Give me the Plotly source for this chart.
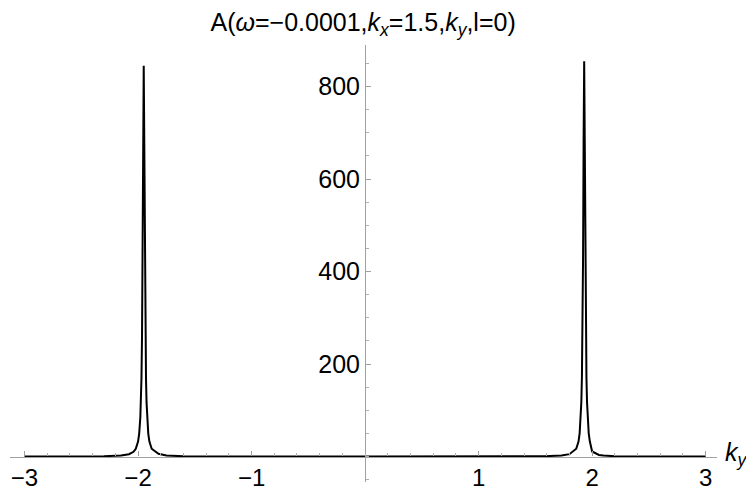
import plotly.graph_objects as go

# ky sample positions and spectral function values
ky = [-3.0, -2.6, -2.3, -2.15, -2.08, -2.04, -2.02, -2.0, -1.99, -1.98, -1.975, -1.97,
      -1.965, -1.96, -1.955, -1.95, -1.945, -1.94, -1.935, -1.93, -1.925, -1.92,
      -1.91, -1.9, -1.88, -1.82, -1.75, -1.6, -1.3, -0.8, 0.0,
      0.8, 1.3, 1.58, 1.73, 1.8, 1.86, 1.88, 1.89, 1.9, 1.905, 1.91, 1.915, 1.92,
      1.925, 1.93, 1.935, 1.94, 1.945, 1.95, 1.955, 1.96, 1.97, 1.98, 2.0, 2.06,
      2.1, 2.2, 2.5, 3.0]
A = [0.08, 0.2, 0.7, 2.1, 5.0, 10.3, 16.9, 32.5, 49.7, 84.5, 116.6, 169,
     260, 422, 676, 845, 676, 422, 260, 169, 116.6, 84.5,
     49.7, 32.5, 16.9, 6.0, 2.1, 0.7, 0.2, 0.1, 0.08,
     0.1, 0.2, 0.7, 2.1, 5.2, 16.9, 32.5, 50.3, 85.5, 118, 171, 263, 427,
     684, 855, 684, 427, 263, 171, 118, 85.5, 50.3, 32.5, 11.0, 3.5,
     2.1, 0.6, 0.2, 0.08]

x_ticks = [-3, -2, -1, 1, 2, 3]
y_ticks = [200, 400, 600, 800]

x_range = [-3.128, 3.10]
y_range = [-55, 890]

font_family = "Liberation Sans, Arial, sans-serif"

fig = go.Figure()
fig.add_trace(go.Scatter(x=ky, y=A, mode="lines",
                         line=dict(color="black", width=2), hoverinfo="skip"))

# page body adds an 8px offset, so the figure is 8px smaller than the window
fig.update_layout(
    width=746, height=482,
    margin=dict(l=2, r=37, t=37, b=8, autoexpand=False),
    plot_bgcolor="white", paper_bgcolor="white",
    showlegend=False,
    font=dict(family=font_family, color="black", size=24),
    title=dict(text="A(<i>ω</i>=−0.0001,<i>k<sub>x</sub></i>=1.5,<i>k<sub>y</sub></i>,l=0)",
               x=0.476, xanchor="center", y=0.97, yanchor="middle",
               font=dict(size=25, family=font_family)),
    xaxis=dict(range=x_range, domain=[0, 1], anchor="free", automargin=False,
               position=(0 - y_range[0]) / (y_range[1] - y_range[0]),
               showgrid=False, zeroline=False, showline=True,
               linecolor="#a0a0a0", linewidth=1.2,
               tickvals=x_ticks, ticktext=["−3", "−2", "−1", "1", "2", "3"],
               ticks="inside", ticklen=5, tickcolor="#a0a0a0", tickwidth=1,
               minor=dict(dtick=0.2, tick0=0, ticks="inside", ticklen=3,
                          tickcolor="#b0b0b0", tickwidth=1),
               tickfont=dict(size=24)),
    yaxis=dict(range=y_range, domain=[0, 1], anchor="free", automargin=False,
               position=(0 - x_range[0]) / (x_range[1] - x_range[0]),
               showgrid=False, zeroline=False, showline=True,
               linecolor="#a0a0a0", linewidth=1.2,
               tickvals=y_ticks,
               ticks="inside", ticklen=5, tickcolor="#a0a0a0", tickwidth=1,
               minor=dict(dtick=50, tick0=0, ticks="inside", ticklen=3,
                          tickcolor="#b0b0b0", tickwidth=1),
               tickfont=dict(size=25)),
)

fig.add_annotation(text="<i>k<sub>y</sub></i>", xref="paper", yref="y",
                   x=1.008, y=5, xanchor="left", yanchor="middle", showarrow=False,
                   font=dict(size=25, family=font_family))

fig.write_html("out.html")
